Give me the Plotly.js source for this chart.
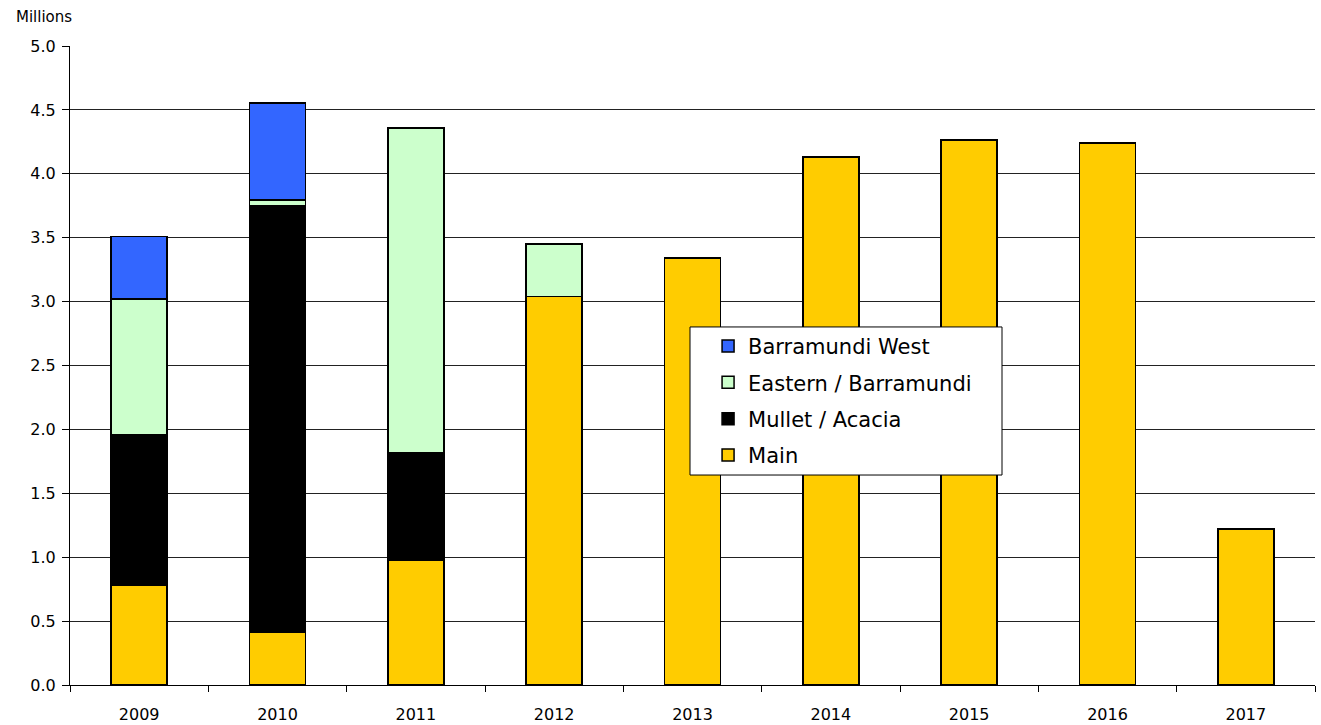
<!DOCTYPE html>
<html><head><meta charset="utf-8">
<script src="https://cdn.plot.ly/plotly-3.0.1.min.js"></script>
<style>body{margin:0;background:#fff}#chart{width:1321px;height:725px}</style>
</head><body><div id="chart"></div>
<script>
const years = ['2009','2010','2011','2012','2013','2014','2015','2016','2017'];
const main = [0.78, 0.41, 0.98, 3.04, 3.34, 4.13, 4.265, 4.24, 1.22];
const mulletAcacia = [1.18, 3.34, 0.835, 0, 0, 0, 0, 0, 0];
const easternBarramundi = [1.06, 0.045, 2.545, 0.41, 0, 0, 0, 0, 0];
const barramundiWest = [0.49, 0.76, 0, 0, 0, 0, 0, 0, 0];
const yTicks = [0,0.5,1,1.5,2,2.5,3,3.5,4,4.5,5];

const font = "Tahoma, 'DejaVu Sans', sans-serif";
function tr(name, y, color, g, rank){
  return {type:'bar', x:years, y:y, name:name, legendgroup:g, legendrank:rank,
    marker:{color:color, line:{color:'#000', width:1.5}}, hoverinfo:'skip'};
}
const data = [
  tr('Main', main, '#FFCC00','d',4),
  tr('Mullet / Acacia', mulletAcacia, '#000000','c',3),
  tr('Eastern / Barramundi', easternBarramundi, '#CCFFCC','b',2),
  tr('Barramundi West', barramundiWest, '#3366FF','a',1)
];
const layout = {
  width:1321, height:725,
  margin:{l:70, r:6, t:46, b:40},
  paper_bgcolor:'#fff', plot_bgcolor:'#fff',
  barmode:'stack', bargap:0.595,
  font:{family:font, color:'#000', size:16},
  showlegend:true,
  legend:{x:0.5125, y:0.562, xanchor:'left', yanchor:'top',
    bgcolor:'rgba(0,0,0,0)', borderwidth:0,
    traceorder:'grouped', tracegroupgap:6,
    font:{family:font, size:21, color:'#000'}},
  xaxis:{type:'category', tickson:'boundaries', ticks:'outside', ticklen:6,
    tickcolor:'#000', showline:true, linecolor:'#000', linewidth:1,
    showgrid:false, tickfont:{size:16}, ticklabelstandoff:15, fixedrange:true},
  yaxis:{range:[0,5], tickvals:yTicks, ticktext:yTicks.map(v=>v.toFixed(1)),
    ticks:'outside', ticklen:7, tickcolor:'#000', showline:true, linecolor:'#000',
    linewidth:1, showgrid:true, gridcolor:'#222', gridwidth:1, zeroline:false,
    tickfont:{size:16}, ticklabelstandoff:3, fixedrange:true},
  shapes:[{type:'rect', xref:'paper', yref:'paper', x0:0.498, x1:0.7486, y0:0.3286, y1:0.5603,
    line:{color:'#000', width:1}, fillcolor:'#fff', layer:'above'}],
  annotations:[{text:'Millions', xref:'paper', yref:'paper', x:-0.045, y:1.0,
    xanchor:'left', yanchor:'bottom', yshift:18, showarrow:false, font:{size:15}}]
};
Plotly.newPlot('chart', data, layout, {displayModeBar:false, staticPlot:true});
</script></body></html>
